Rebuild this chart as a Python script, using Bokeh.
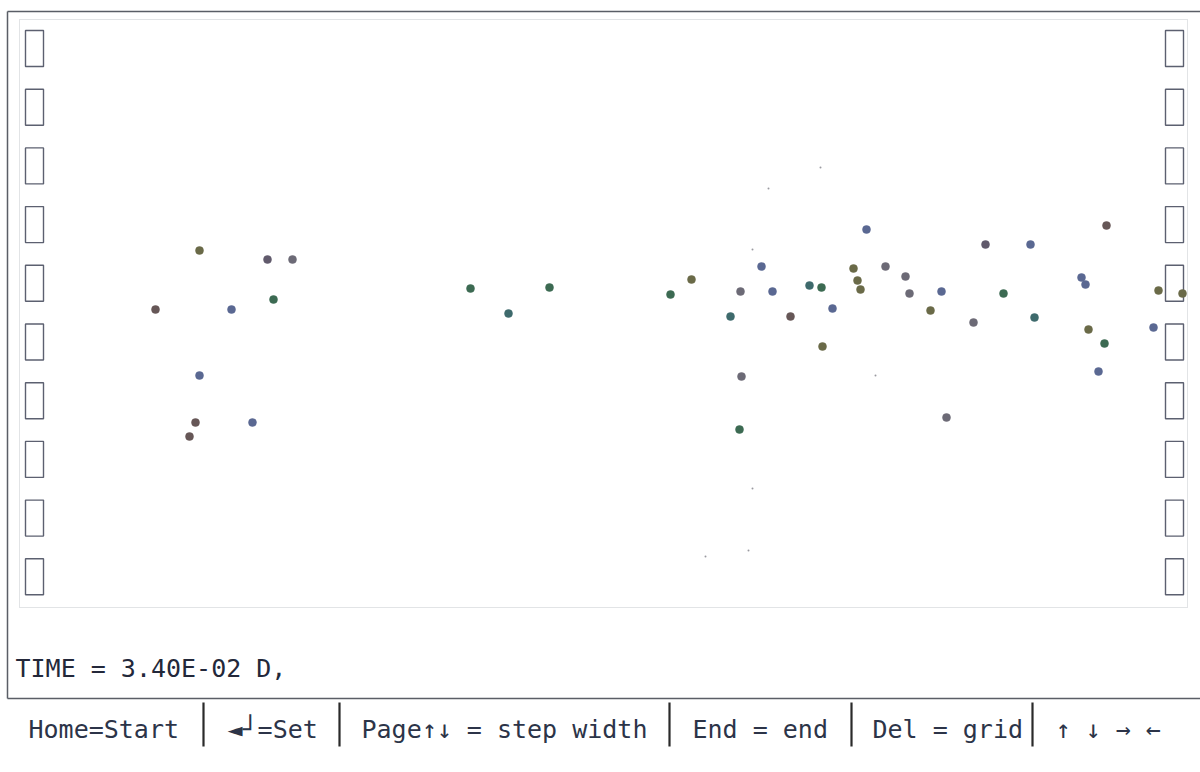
from bokeh.plotting import figure
from bokeh.models import Range1d, ColumnDataSource
from bokeh.core.properties import value
from bokeh.embed import file_html
from bokeh.resources import INLINE

# ---- data: particle positions (units: pixels of the plot box, origin bottom-left) ----
px = [136, 180, 248, 273, 254, 212, 180, 176, 170, 233,
      451, 489, 530,
      847, 742, 834, 866, 886, 672, 651, 721, 753, 790, 802, 838, 841, 890, 922,
      711, 771, 813, 911, 803, 722, 720, 927,
      1087, 966, 1011, 954, 984, 1015, 1062, 1066, 1069, 1085, 1079, 1134, 1139, 1163]
py = [298, 357, 348, 348, 308, 298, 232, 185, 171, 185,
      319, 294, 320,
      378, 341, 339, 341, 331, 328, 313, 316, 316, 322, 320, 327, 318, 314, 316,
      291, 291, 299, 297, 261, 231, 178, 190,
      382, 363, 363, 285, 314, 290, 330, 323, 278, 264, 236, 280, 317, 314]
pcolor = ["brown", "olive", "purple", "gray", "green", "blue", "blue", "brown", "brown", "blue",
          "green", "teal", "green",
          "blue", "blue", "olive", "gray", "gray", "olive", "green", "gray", "blue", "teal", "green", "olive", "olive", "gray", "blue",
          "teal", "brown", "blue", "olive", "olive", "gray", "green", "gray",
          "brown", "purple", "blue", "gray", "green", "teal", "blue", "blue", "olive", "green", "blue", "blue", "olive", "olive"]
speck_x = [801, 749, 733, 856, 733, 686, 729]
speck_y = [440, 419, 358, 232, 119, 51, 57]

time_label = "TIME = 3.40E-02 D,"
menu_labels = ["Home=Start", "\u25c4\u2518=Set", "Page\u2191\u2193 = step width",
               "End = end", "Del = grid", "\u2191 \u2193 \u2192 \u2190"]

palette = {"gray": "#6c6a76", "blue": "#5a6892", "green": "#3c6a52", "olive": "#6a6a48",
           "brown": "#665757", "teal": "#3e6a6c", "purple": "#615a6c"}

W, H = 1200, 772
p = figure(width=W, height=H, output_backend="svg", toolbar_location=None,
           x_range=Range1d(-19, 1181), y_range=Range1d(-165, 607),
           min_border=0, background_fill_color="white", border_fill_color="white")
p.axis.visible = False
p.grid.visible = False
p.outline_line_color = None

# frame lines
p.segment(x0=[-12, -12, -12], y0=[596, 596, -91], x1=[1181, -12, 1181], y1=[596, -91, -91],
          line_color="#5a5e66", line_width=1.5)
# inner dotted box
p.quad(left=[0], right=[1168], bottom=[0], top=[588], fill_color=None,
       line_color="#c4c8cc", line_width=1, line_dash="1 1")

# side boxes
n = 10
tops = [607 - (30 + i * 58.7) for i in range(n)]
for xl in (6, 1146):
    p.quad(left=[xl] * n, right=[xl + 18] * n, top=tops, bottom=[t - 36 for t in tops],
           fill_color=None, line_color="#5c6070", line_width=1.4)

# specks
p.scatter(speck_x, speck_y, size=2, color="#9a9aa0", line_color=None)

# particles
src = ColumnDataSource(dict(x=px, y=py, c=[palette[c] for c in pcolor]))
p.scatter("x", "y", source=src, size=8, fill_color="c", line_color="c", line_width=0.5)

# time text
p.text(x=[-4], y=[-61], text=[time_label], text_font=value("DejaVu Sans Mono"),
       text_font_size="25px", text_color="#23283a", text_baseline="middle")

# menu bar
menu_x = [9, 208, 342, 673, 853, 1036]
p.text(x=menu_x, y=[-122] * len(menu_labels), text=menu_labels,
       text_font=value("DejaVu Sans Mono"), text_font_size="25px",
       text_color="#2c3448", text_baseline="middle")
sep_x = [184, 320, 650, 832, 1013]
p.segment(x0=sep_x, x1=sep_x, y0=[-95] * 5, y1=[-139] * 5, line_color="#2a2a2a", line_width=2.2)

open("out.html", "w").write(file_html(p, INLINE))
